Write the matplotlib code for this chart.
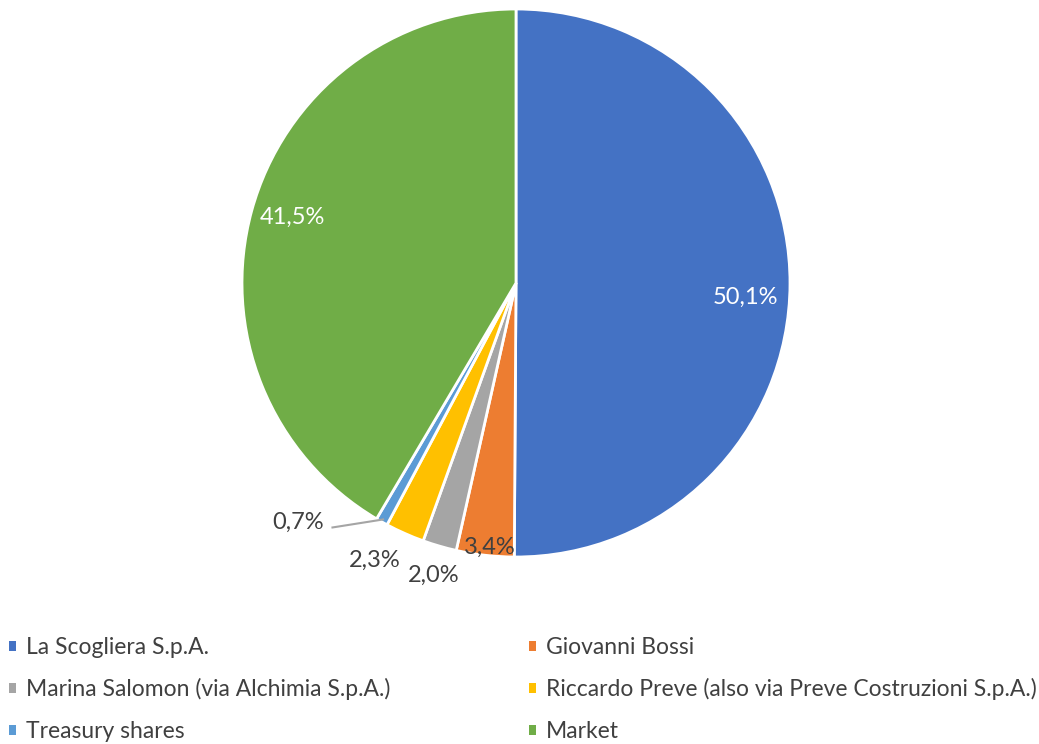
import numpy as np
import matplotlib
matplotlib.use("Agg")
import matplotlib.pyplot as plt
from matplotlib.patches import Patch

# data
labels = ["La Scogliera S.p.A.", "Giovanni Bossi", "Marina Salomon (via Alchimia S.p.A.)",
          "Riccardo Preve (also via Preve Costruzioni S.p.A.)", "Treasury shares", "Market"]
shares = [50.1, 3.4, 2.0, 2.3, 0.7, 41.5]
colors = ["#4472C4", "#ED7D31", "#A5A5A5", "#FFC000", "#5B9BD5", "#70AD47"]

# label placement (radius, angle offset in degrees, text colour)
lab_r = [0.84, 0.97, 1.11, 1.135, 1.18, 0.85]
lab_off = [-3.5, 0.8, 0.5, -3.0, -13.0, -1.2]
lab_col = ["white", "#404040", "#404040", "#404040", "#404040", "white"]

plt.rcParams['font.family'] = ['Lato', 'DejaVu Sans']
W, H = 1039, 744
fig = plt.figure(figsize=(W / 100, H / 100), dpi=100)

cx, cy, R = 516, 283, 274
ax = fig.add_axes([(cx - R) / W, 1 - (cy + R) / H, 2 * R / W, 2 * R / H])
wedges, _ = ax.pie(shares, colors=colors, startangle=90, counterclock=False,
                   radius=1, wedgeprops=dict(edgecolor="white", linewidth=2))
ax.set_xlim(-1, 1)
ax.set_ylim(-1, 1)
ax.set_aspect("equal")
ax.axis("off")

for i, w in enumerate(wedges):
    mid = np.deg2rad((w.theta1 + w.theta2) / 2 + lab_off[i])
    x, y = lab_r[i] * np.cos(mid), lab_r[i] * np.sin(mid)
    txt = ("%.1f%%" % shares[i]).replace(".", ",")
    ax.text(x, y, txt, ha="center", va="center", fontsize=17, color=lab_col[i],
            clip_on=False)
    if labels[i] == "Treasury shares":
        emid = np.deg2rad((w.theta1 + w.theta2) / 2)
        ex, ey = 0.99 * np.cos(emid), 0.99 * np.sin(emid)
        ax.plot([x + 0.125, ex], [y - 0.02, ey],
                color="#A5A5A5", lw=1.5, clip_on=False)

# legend in two columns
handles = [Patch(facecolor=c, edgecolor="none") for c in colors]
kw = dict(frameon=False, fontsize=16.5, handlelength=0.3, handleheight=0.3,
          handletextpad=0.45, labelspacing=0.89, loc="upper left",
          labelcolor="#404040", borderaxespad=0, borderpad=0)
leg1 = fig.legend([handles[i] for i in (0, 2, 4)], [labels[i] for i in (0, 2, 4)],
                  bbox_to_anchor=(9 / W, 1 - 637 / H), **kw)
leg2 = fig.legend([handles[i] for i in (1, 3, 5)], [labels[i] for i in (1, 3, 5)],
                  bbox_to_anchor=(529 / W, 1 - 637 / H), **kw)

fig.savefig("out.png", dpi=100)
